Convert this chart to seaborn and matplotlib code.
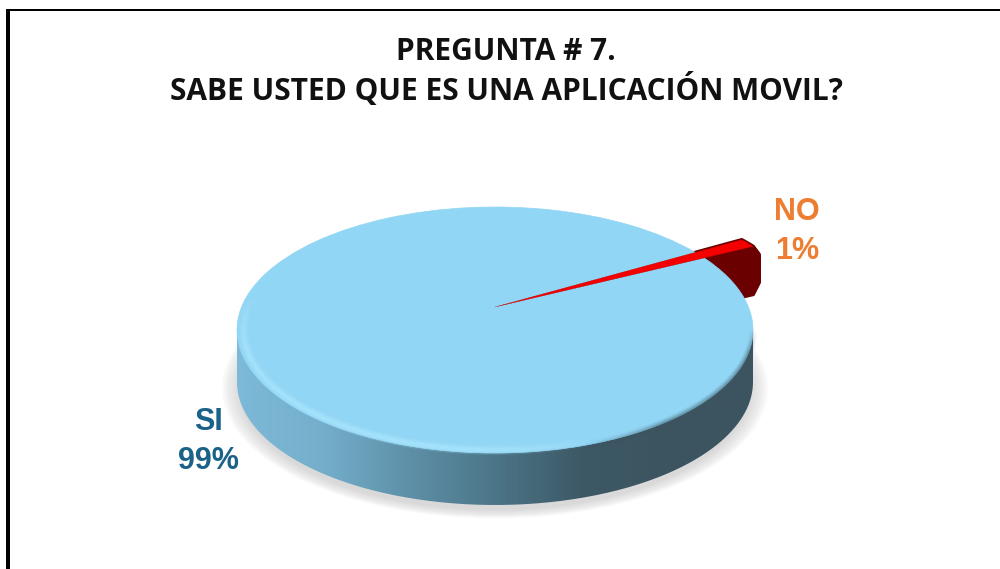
import numpy as np
import matplotlib
matplotlib.use("Agg")
import matplotlib.pyplot as plt
import seaborn as sns
from matplotlib.collections import LineCollection
from matplotlib.patches import Ellipse, PathPatch, Rectangle
from matplotlib.path import Path
from matplotlib.transforms import Affine2D, Transform

title_lines = ["PREGUNTA # 7.", "SABE USTED QUE ES UNA APLICACIÓN MOVIL?"]
categories = ["SI", "NO"]
values = [99, 1]
colors_top = ["#92D6F5", "#F40000"]
color_side_no = "#6B0000"
label_colors = ["#1B6288", "#ED7D31"]


# the tip of the pie sits above the middle of the ellipse: perspective of the 3d chart
class Tilt(Transform):
    input_dims = 2
    output_dims = 2
    is_affine = False
    a = 23 / 123

    def transform_non_affine(self, xy):
        xy = np.asarray(xy)
        d = 1 + self.a * xy[:, 1]
        return np.column_stack([xy[:, 0] * np.sqrt(1 - self.a ** 2) / d, (xy[:, 1] + self.a) / d])


def rim(a1, a2, radius, color, width, alpha, fade_func):
    # piece of the edge of the top, alpha fades along the angle
    t = np.radians(np.linspace(a1, a2, 240))
    pts = np.column_stack([np.cos(t) * radius, np.sin(t) * radius])
    segs = np.stack([pts[:-1], pts[1:]], axis=1)
    rgba = np.tile(matplotlib.colors.to_rgba(color), (len(segs), 1))
    rgba[:, 3] = fade_func((t[:-1] - t[0]) / (t[-1] - t[0])) * alpha
    ax.add_collection(LineCollection(segs, colors=rgba, linewidths=width, zorder=5))


sns.set_theme(style="white")
plt.rcParams["font.family"] = ["Liberation Sans", "DejaVu Sans"]

fig = plt.figure(figsize=(10, 5.69), dpi=100)
ax = fig.add_axes([0, 0, 1, 1])

# pie centre and radii in pixels of the picture
cx, cy, rx, ry = 495, 330, 258, 123
xlim = (-cx / rx, (1000 - cx) / rx)
ylim = ((cy - 569) / ry, cy / ry)
depth = 52 / ry
depth_no = 48 / ry
no_radius = 1.26
start = 30.2

# soft shadow under the pie
for k in np.linspace(0.99, 1.06, 16):
    ax.add_patch(Ellipse((0, -depth - 0.05), 2 * k, 2 * k, fc="#999999", ec="none", alpha=0.022, zorder=1))

# side of the pie with the horizontal gradient
t = np.linspace(np.pi, 2 * np.pi, 200)
side_x = np.r_[np.cos(t), 1, -1]
side_y = np.r_[np.sin(t) - depth, 0, 0]
side_cmap = sns.blend_palette(["#7DB9D8", "#74AECB", "#5E90A7", "#4C7588", "#3D5966", "#3C5460", "#3C5460"], as_cmap=True)
img = ax.imshow(np.linspace(0, 1, 256)[None, :], extent=(-1, 1, -depth - 1, 1), cmap=side_cmap,
                aspect="auto", zorder=2)
img.set_clip_path(PathPatch(Path(np.column_stack([side_x, side_y])), transform=ax.transData))

# side of the NO slice, sticks out behind the top of the pie
for d in np.linspace(0, depth_no, 40):
    wedges, _ = ax.pie(values, startangle=start, colors=colors_top)
    wedges[0].set_visible(False)
    wedges[1].set(radius=no_radius, facecolor=color_side_no, edgecolor=color_side_no, linewidth=2.5,
                  joinstyle="round", zorder=2.5)
    dx = 6 / rx * min(1, d / (8 / ry), (depth_no - d) / (12 / ry))
    wedges[1].set_transform(Tilt() + Affine2D().translate(dx, -d) + ax.transData)

# top of the pie
wedges, _ = ax.pie(values, startangle=start, colors=colors_top)
for w in wedges:
    w.set_transform(Tilt() + ax.transData)
wedges[0].set(zorder=3, edgecolor=colors_top[0], linewidth=0.5)
wedges[1].set(radius=no_radius, zorder=4, edgecolor="#C00000", linewidth=0.2, joinstyle="round")

# bevel along the front edge of the top
bell = lambda u: np.clip(np.sin(u * np.pi) * 1.6, 0, 1)
for lw, alpha in [(7, 0.18), (5, 0.25), (3.5, 0.3), (2, 0.35)]:
    rim(160, 295, 0.975, "#ADE8FF", lw, alpha, bell)

# blurred dark edge on the right
ramp = lambda u: np.clip(u / 0.3, 0, 1) * np.clip((1 - u) / 0.15, 0, 1)
for lw, alpha in [(6, 0.10), (4, 0.16), (2, 0.25)]:
    rim(290, 360, 1.0, "#3C5460", lw, alpha, ramp)

ax.set_xlim(xlim)
ax.set_ylim(ylim)
ax.set_aspect("auto")
ax.axis("off")

# texts, placed in figure fractions
title_font = ["Open Sans", "DejaVu Sans"]
fig.text(0.506, 1 - 52 / 569, title_lines[0], ha="center", va="center", fontsize=21.5, fontweight="bold",
         color="#111111", family=title_font)
fig.text(0.506, 1 - 90 / 569, title_lines[1], ha="center", va="center", fontsize=21.5, fontweight="bold",
         color="#111111", family=title_font)
label_xy = [(208, 422, 461), (797, 212, 251)]
for cat, val, col, (lx, ly1, ly2) in zip(categories, values, label_colors, label_xy):
    fig.text(lx / 1000, 1 - ly1 / 569, cat, ha="center", va="center", fontsize=22, fontweight="bold", color=col)
    fig.text(lx / 1000, 1 - ly2 / 569, f"{val}%", ha="center", va="center", fontsize=22, fontweight="bold", color=col)

# black frame of the slide, left and top only
fig.add_artist(Rectangle((6 / 1000, 0), 4 / 1000, 1 - 9 / 569, transform=fig.transFigure, fc="black", ec="none"))
fig.add_artist(Rectangle((6 / 1000, 1 - 11 / 569), 994 / 1000, 2 / 569, transform=fig.transFigure, fc="black", ec="none"))

fig.savefig("out.png", dpi=100)
